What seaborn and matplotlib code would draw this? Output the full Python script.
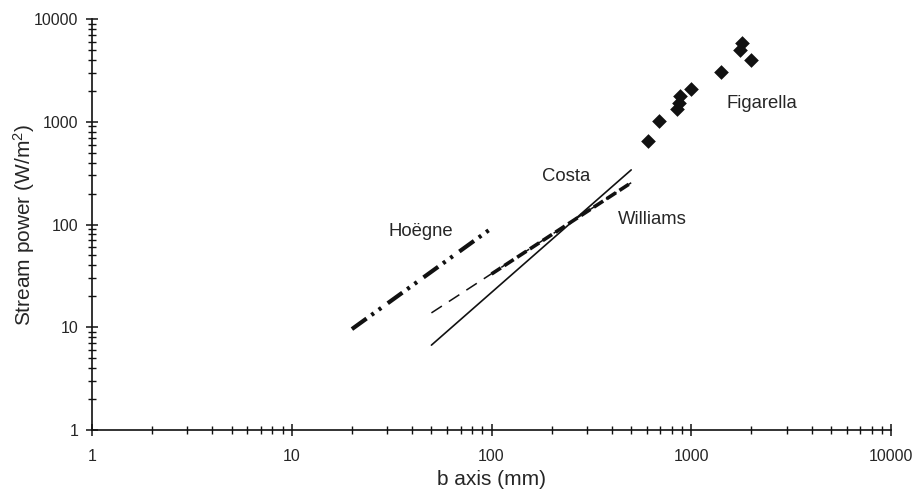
import matplotlib
matplotlib.use('Agg')
import matplotlib.pyplot as plt
import matplotlib.ticker as mticker
import seaborn as sns

# data (b axis in mm, stream power in W/m2)
hoegne_x = [20, 100]
hoegne_y = [9.6, 92]

costa_x = [50, 500]
costa_y = [6.7, 340]

williams_x = [50, 500]
williams_y = [13.8, 255]
williams_b_x = [100, 500]
williams_b_y = [33, 255]

figarella_x = [605, 690, 850, 870, 880, 1000, 1400, 1750, 1800, 2000]
figarella_y = [650, 1010, 1320, 1520, 1780, 2070, 3070, 5000, 5800, 4000]

sns.set_style('ticks')
plt.rcParams['font.family'] = ['Liberation Sans', 'DejaVu Sans']
plt.rcParams['mathtext.fontset'] = 'custom'
plt.rcParams['mathtext.rm'] = 'Liberation Sans'
plt.rcParams['mathtext.it'] = 'Liberation Sans'
plt.rcParams['lines.scale_dashes'] = False

txt = '#262626'
ink = '#111111'

fig, ax = plt.subplots(figsize=(9.13, 4.91), dpi=100)
plt.subplots_adjust(left=0.1008, right=0.976, bottom=0.1242, top=0.9613)

# lines
sns.lineplot(x=hoegne_x, y=hoegne_y, ax=ax, color=ink, linewidth=3.0,
             linestyle=(0, (13, 4.3, 2.2, 4.3, 2.2, 5.8)))
sns.lineplot(x=costa_x, y=costa_y, ax=ax, color=ink, linewidth=1.2)
sns.lineplot(x=williams_x, y=williams_y, ax=ax, color=ink, linewidth=1.1,
             linestyle=(0, (9, 6)))
sns.lineplot(x=williams_b_x, y=williams_b_y, ax=ax, color=ink, linewidth=2.6,
             linestyle=(0, (8, 3)))

# Figarella points
sns.scatterplot(x=figarella_x, y=figarella_y, ax=ax, marker='D', s=56,
                color=ink, edgecolor=ink, linewidth=0, zorder=5)

ax.set_xscale('log')
ax.set_yscale('log')
ax.set_xlim(1, 10000)
ax.set_ylim(1, 10000)

fmt = mticker.FuncFormatter(lambda v, p: '%g' % v)
for axis in (ax.xaxis, ax.yaxis):
    axis.set_major_locator(mticker.LogLocator(base=10, numticks=10))
    axis.set_minor_locator(mticker.LogLocator(base=10, subs=range(2, 10), numticks=20))
    axis.set_major_formatter(fmt)
    axis.set_minor_formatter(mticker.NullFormatter())

ax.tick_params(which='major', direction='inout', length=8, width=1.1,
               color=ink, labelsize=11.5, labelcolor=txt)
ax.tick_params(which='minor', direction='inout', length=5.5, width=1.0, color=ink)
ax.tick_params(axis='x', which='major', pad=10)
ax.tick_params(axis='y', which='major', pad=6)

sns.despine(ax=ax)
for s in ('left', 'bottom'):
    ax.spines[s].set_color(ink)
    ax.spines[s].set_linewidth(1.2)

ax.set_xlabel('b axis (mm)', fontsize=15, color=txt, labelpad=4)
ax.set_ylabel('Stream power (W/m$^2$)', fontsize=15, color=txt, labelpad=-2)

# series labels
ax.text(44, 85, 'Hoëgne', fontsize=13.3, color=txt, ha='center', va='center')
ax.text(237, 290, 'Costa', fontsize=13.3, color=txt, ha='center', va='center')
ax.text(638, 113, 'Williams', fontsize=13.3, color=txt, ha='center', va='center')
ax.text(2265, 1489, 'Figarella', fontsize=13.3, color=txt, ha='center', va='center')

plt.savefig('out.png', dpi=100)
